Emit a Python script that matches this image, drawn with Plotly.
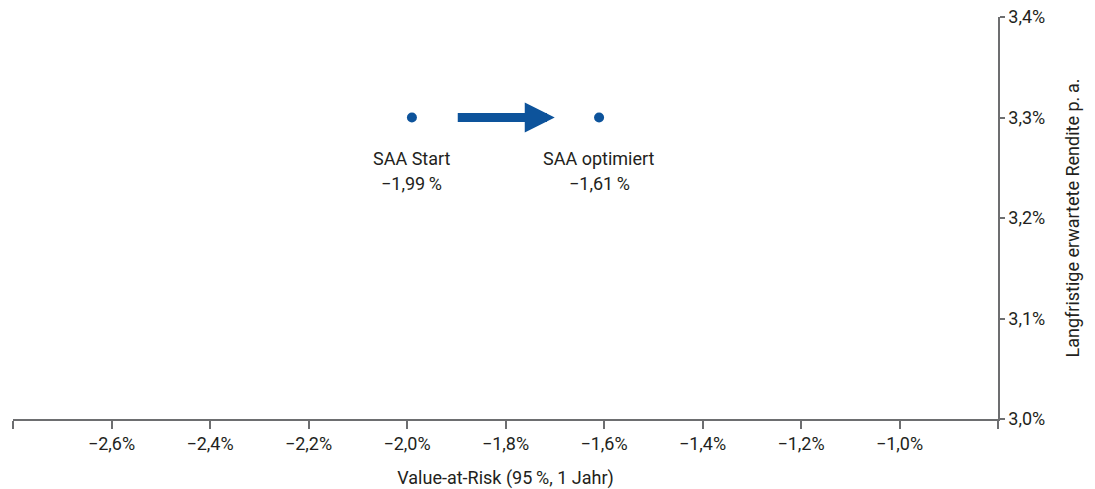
import plotly.graph_objects as go

# Data
names = ["SAA Start", "SAA optimiert"]
var_values = [-1.99, -1.61]          # Value-at-Risk in %
returns = [3.3, 3.3]                 # expected return in %
value_labels = ["\u22121,99\u2009%", "\u22121,61\u2009%"]
arrow_from = -1.90
arrow_to = -1.70

x_tickvals = [-2.8, -2.6, -2.4, -2.2, -2.0, -1.8, -1.6, -1.4, -1.2, -1.0, -0.8]
x_ticktext = ["", "\u22122,6%", "\u22122,4%", "\u22122,2%", "\u22122,0%", "\u22121,8%",
              "\u22121,6%", "\u22121,4%", "\u22121,2%", "\u22121,0%", ""]
y_tickvals = [3.0, 3.1, 3.2, 3.3, 3.4]
y_ticktext = ["3,0%", "3,1%", "3,2%", "3,3%", "3,4%"]

BLUE = "#0d539b"
TEXT = "#231f20"
AXIS = "#6d6e70"
FONT = "Roboto, sans-serif"
FS = 18

fig = go.Figure()
fig.add_trace(go.Scatter(
    x=var_values, y=returns, mode="markers",
    marker=dict(size=10, color=BLUE), hoverinfo="skip", showlegend=False,
))

annotations = []
for n, v, xv, yv in zip(names, value_labels, var_values, returns):
    annotations.append(dict(x=xv, y=yv, xref="x", yref="y", text=n, showarrow=False,
                            yshift=-41, font=dict(size=FS, color=TEXT, family=FONT)))
    annotations.append(dict(x=xv, y=yv, xref="x", yref="y", text=v, showarrow=False,
                            yshift=-66, font=dict(size=FS, color=TEXT, family=FONT)))

annotations.append(dict(
    x=arrow_to, y=returns[0], ax=arrow_from, ay=returns[0],
    xref="x", yref="y", axref="x", ayref="y",
    text="", showarrow=True, arrowhead=2, arrowwidth=9, arrowsize=0.667,
    arrowcolor=BLUE, standoff=0, startstandoff=0,
))

fig.update_layout(
    width=1095, height=489,
    margin=dict(l=13, r=97, t=17, b=70),
    paper_bgcolor="white", plot_bgcolor="white",
    font=dict(family=FONT, size=FS, color=TEXT),
    annotations=annotations,
    xaxis=dict(
        range=[-2.8, -0.8], tickvals=x_tickvals, ticktext=x_ticktext, automargin=False,
        showgrid=False, zeroline=False, showline=True, linecolor=AXIS, linewidth=1.5,
        ticks="outside", ticklen=8, tickcolor=AXIS, tickwidth=1.5,
        tickfont=dict(size=FS, color=TEXT, family=FONT),
        title=dict(text="Value-at-Risk (95\u2009%, 1 Jahr)", standoff=22,
                   font=dict(size=FS, color=TEXT, family=FONT)),
    ),
    yaxis=dict(
        range=[3.0, 3.4], tickvals=y_tickvals, ticktext=y_ticktext, side="right",
        automargin=False,
        showgrid=False, zeroline=False, showline=True, linecolor=AXIS, linewidth=1.5,
        ticks="outside", ticklen=5, tickcolor=AXIS, tickwidth=1.5,
        tickfont=dict(size=FS, color=TEXT, family=FONT),
        title=dict(text="Langfristige erwartete Rendite p.\u2009a.", standoff=22,
                   font=dict(size=FS, color=TEXT, family=FONT)),
    ),
)

fig.write_html("out.html")
